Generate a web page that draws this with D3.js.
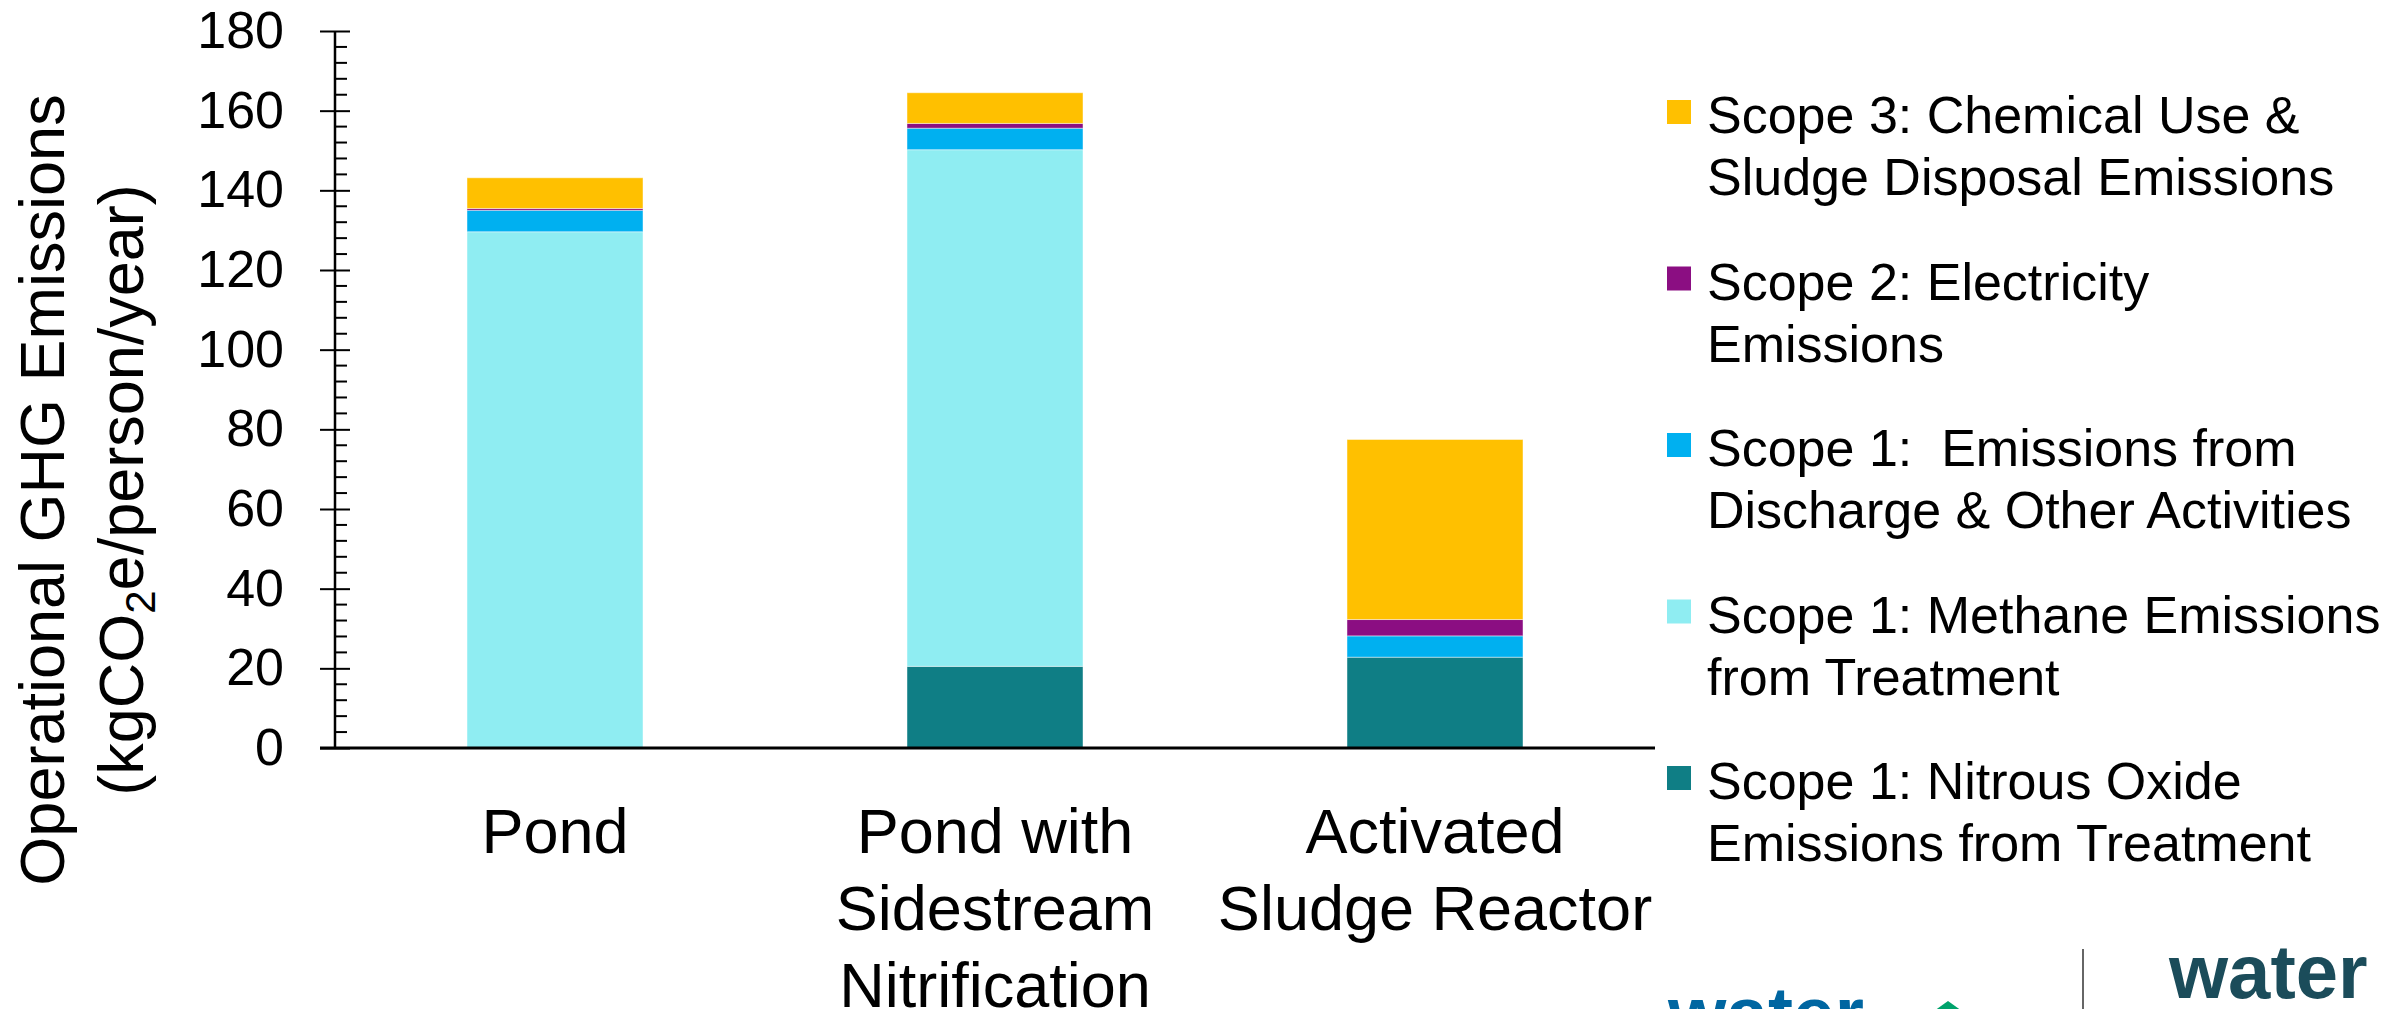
<!DOCTYPE html>
<html>
<head>
<meta charset="utf-8">
<script src="https://cdn.jsdelivr.net/npm/d3@7"></script>
<style>
  body { margin: 0; background: #fff; overflow: hidden; }
  text { font-family: "Liberation Sans", Arial, sans-serif; fill: #000; }
</style>
</head>
<body>
<div id="chart"></div>
<script>
// categories and stacked series (kgCO2e/person/year)
var categories = ["Pond", "Pond with Sidestream Nitrification", "Activated Sludge Reactor"];
var categoryLines = [["Pond"], ["Pond with", "Sidestream", "Nitrification"], ["Activated", "Sludge Reactor"]];

var nitrousOxide = [0, 20.5, 22.8];
var methane = [129.6, 129.7, 0];
var discharge = [5.4, 5.4, 5.35];
var electricity = [0.45, 1.2, 4.1];
var chemical = [7.7, 7.7, 45.2];

var seriesKeys = ["nitrous", "methane", "discharge", "electricity", "chemical"];
var seriesColors = ["#0f7e85", "#8fedf2", "#00b0f0", "#8b0e82", "#ffc000"];
var seriesLabels = [
    ["Scope 1: Nitrous Oxide", "Emissions from Treatment"],
    ["Scope 1: Methane Emissions", "from Treatment"],
    ["Scope 1:  Emissions from", "Discharge & Other Activities"],
    ["Scope 2: Electricity", "Emissions"],
    ["Scope 3: Chemical Use &", "Sludge Disposal Emissions"]
];

var yTicks = [0, 20, 40, 60, 80, 100, 120, 140, 160, 180];

var width = 2407, height = 1009;

var svg = d3.select("#chart")
    .append("svg")
    .attr("width", width)
    .attr("height", height);

var rows = categories.map(function (c, i) {
    return {
        category: c,
        nitrous: nitrousOxide[i],
        methane: methane[i],
        discharge: discharge[i],
        electricity: electricity[i],
        chemical: chemical[i]
    };
});

var stacked = d3.stack().keys(seriesKeys)(rows);

var x = d3.scaleBand()
    .domain(categories)
    .range([335, 1655])
    .paddingInner(0.6)
    .paddingOuter(0.3);

var y = d3.scaleLinear()
    .domain([0, 180])
    .range([748, 31]);

var color = d3.scaleOrdinal().domain(seriesKeys).range(seriesColors);

// bars
svg.append("g")
    .selectAll("g")
    .data(stacked)
    .enter().append("g")
    .attr("fill", function (d) { return color(d.key); })
    .selectAll("rect")
    .data(function (d) { return d; })
    .enter().append("rect")
    .attr("x", function (d) { return x(d.data.category); })
    .attr("y", function (d) { return y(d[1]); })
    .attr("height", function (d) { return y(d[0]) - y(d[1]); })
    .attr("width", x.bandwidth())
    .style("stroke", "#ffffff")
    .style("stroke-opacity", 0.45)
    .style("stroke-width", 1);

// y axis: major ticks crossing the line, minor ticks inside
var yAxis = svg.append("g")
    .attr("transform", "translate(335,0)")
    .call(d3.axisLeft(y).tickValues(yTicks).tickSize(15).tickPadding(36));

yAxis.select(".domain").remove();
yAxis.selectAll(".tick line").attr("x1", 15).style("stroke", "#000").style("stroke-width", 2);
yAxis.selectAll(".tick text")
    .style("font-size", "52px")
    .style("font-family", "'Liberation Sans', Arial, sans-serif")
    .attr("fill", "#000");

var minorTicks = d3.range(0, 181, 4).filter(function (v) { return v % 20 != 0; });
svg.append("g")
    .selectAll("line")
    .data(minorTicks)
    .enter().append("line")
    .attr("x1", 335)
    .attr("x2", 347)
    .attr("y1", function (d) { return y(d); })
    .attr("y2", function (d) { return y(d); })
    .style("stroke", "#000")
    .style("stroke-width", 2);

svg.append("line")
    .attr("x1", 335).attr("x2", 335)
    .attr("y1", y(0)).attr("y2", y(180))
    .style("stroke", "#000")
    .style("stroke-width", 2.5);

// x axis line
svg.append("line")
    .attr("x1", 320).attr("x2", 1655)
    .attr("y1", y(0)).attr("y2", y(0))
    .style("stroke", "#000")
    .style("stroke-width", 3);

// category labels
categoryLines.forEach(function (lines, i) {
    var cx = x(categories[i]) + x.bandwidth() / 2;
    svg.append("text")
        .attr("text-anchor", "middle")
        .style("font-size", "63px")
        .selectAll("tspan")
        .data(lines)
        .enter().append("tspan")
        .attr("x", cx)
        .attr("y", function (d, j) { return 853 + j * 77; })
        .text(function (d) { return d; });
});

// y axis title
var title = svg.append("text")
    .attr("transform", "translate(0,490) rotate(-90)")
    .attr("text-anchor", "middle")
    .style("font-size", "63px");
title.append("tspan").attr("x", 0).attr("y", 64).text("Operational GHG Emissions");
var t2 = title.append("tspan").attr("x", 0).attr("y", 143);
t2.text("(kgCO");
title.append("tspan").style("font-size", "42px").attr("dy", 12).text("2");
title.append("tspan").attr("dy", -12).text("e/person/year)");

// legend, top entry is the top of the stack
var legend = svg.append("g")
    .selectAll("g")
    .data(seriesKeys.slice().reverse())
    .enter().append("g")
    .attr("transform", function (d, i) { return "translate(1667," + (133 + i * 166.5) + ")"; });

legend.append("rect")
    .attr("x", 0)
    .attr("y", -33)
    .attr("width", 24)
    .attr("height", 24)
    .attr("fill", function (d) { return color(d); });

legend.append("text")
    .style("font-size", "52px")
    .style("white-space", "pre")
    .selectAll("tspan")
    .data(function (d) { return seriesLabels[seriesKeys.indexOf(d)]; })
    .enter().append("tspan")
    .attr("x", 40)
    .attr("y", function (d, j) { return j * 62; })
    .text(function (d) { return d; });

// logos in the bottom right corner
svg.append("text")
    .attr("x", 1668).attr("y", 1039)
    .style("font-size", "75px")
    .style("font-weight", "bold")
    .style("fill", "#0066a1")
    .text("water");

svg.append("path")
    .attr("d", "M1934,1011 L1948,1001 L1962,1011 Z")
    .attr("fill", "#00a36c");

svg.append("line")
    .attr("x1", 2083).attr("x2", 2083)
    .attr("y1", 949).attr("y2", 1009)
    .style("stroke", "#333")
    .style("stroke-width", 1.5);

svg.append("text")
    .attr("x", 2169).attr("y", 998)
    .style("font-size", "76px")
    .style("font-weight", "bold")
    .style("fill", "#1b4c5a")
    .text("water");
</script>
</body>
</html>
